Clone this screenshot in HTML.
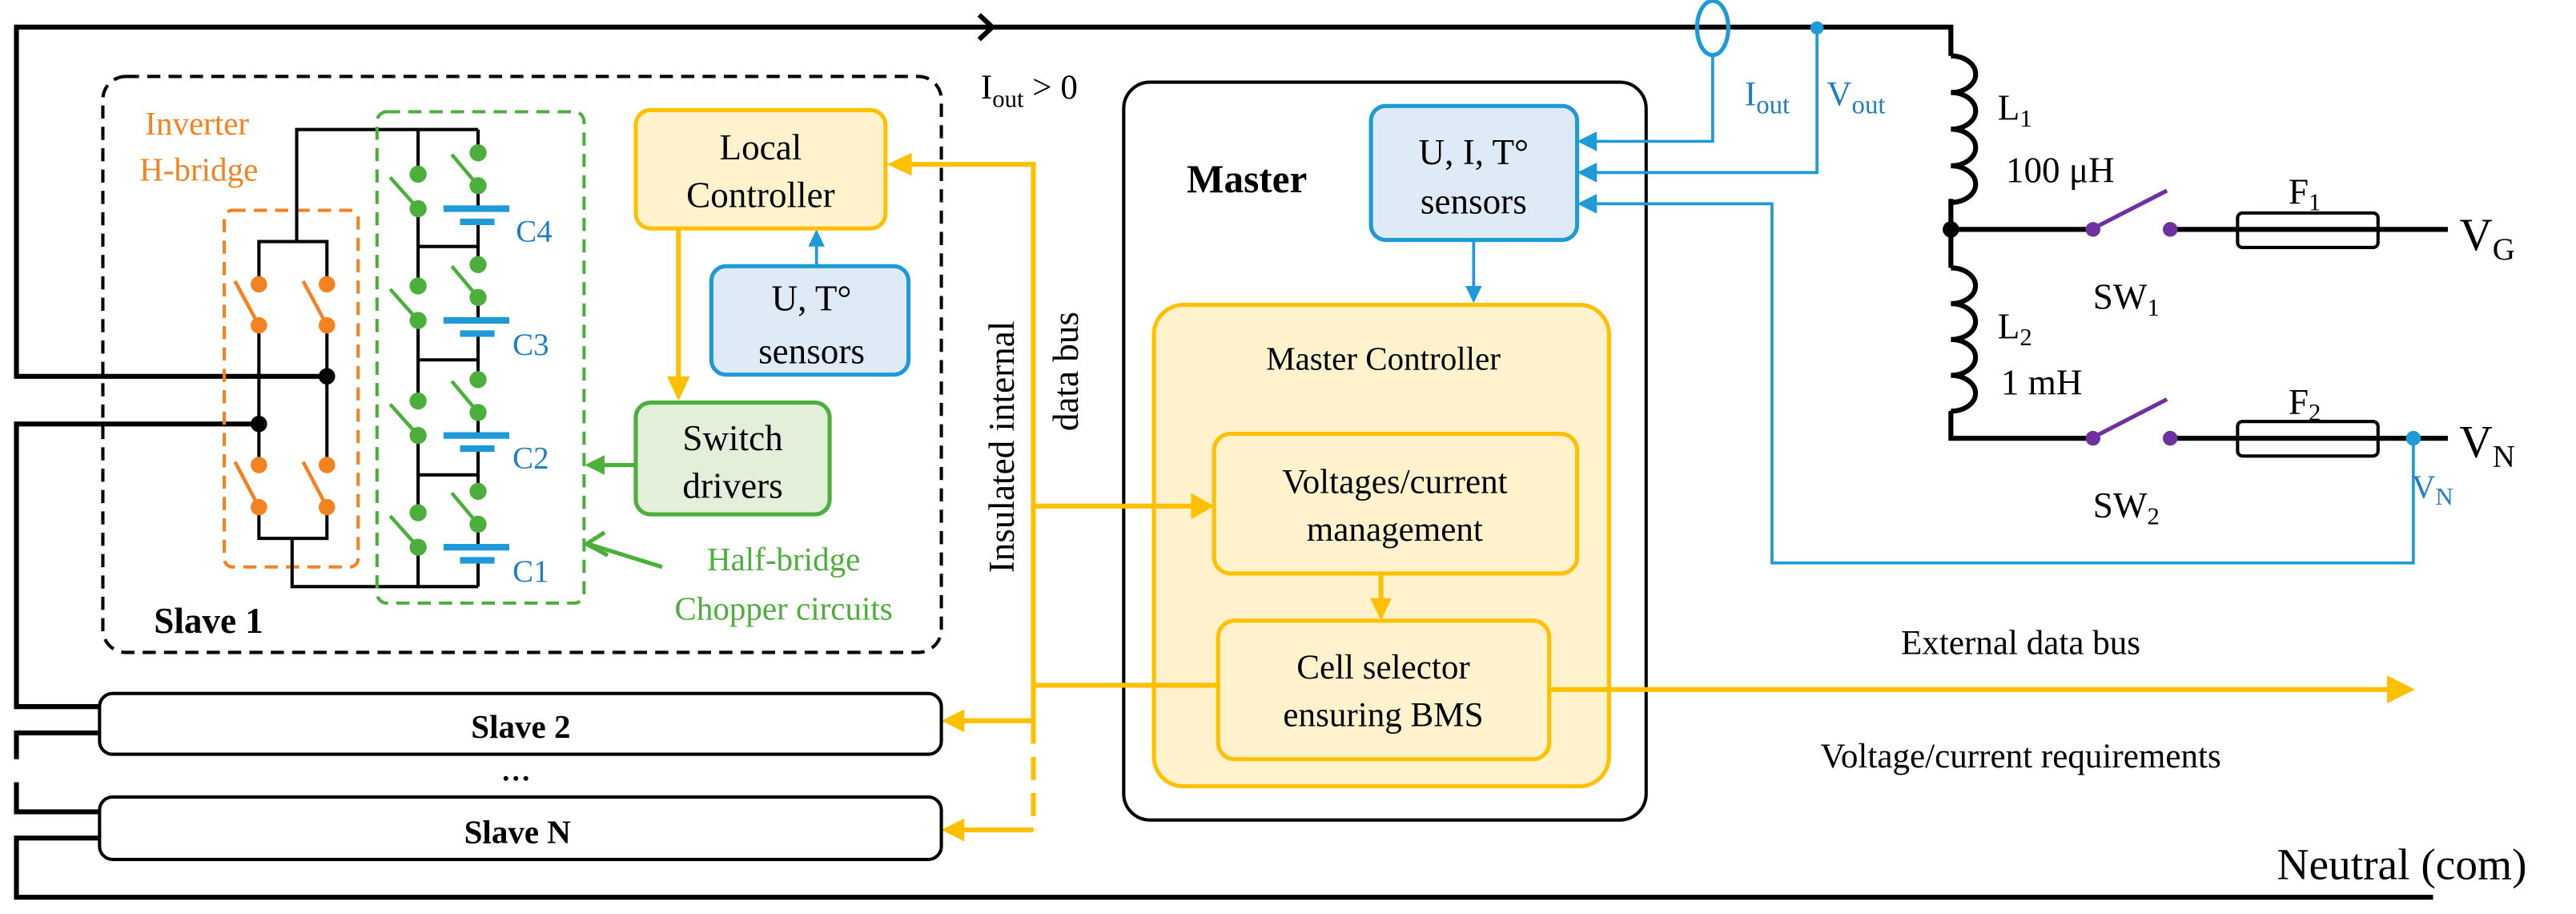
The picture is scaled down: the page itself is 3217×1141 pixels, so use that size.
<!DOCTYPE html>
<html><head><meta charset="utf-8"><style>
html,body{margin:0;padding:0;background:#fff;font-family:'Liberation Serif','Times New Roman',Times,serif;}
svg{display:block;}
svg text, svg tspan{font-family:'Liberation Serif','Times New Roman',Times,serif !important;}
</style></head><body>
<svg width="3217" height="1141" viewBox="0 0 1568 556.2" preserveAspectRatio="none" xmlns="http://www.w3.org/2000/svg" style="font-family:'Liberation Serif','Times New Roman',Times,serif">
<rect x="0" y="0" width="1568" height="556.2" fill="#fff"/>

<rect x="684" y="50" width="318" height="449" rx="16" fill="#fff" stroke="#000" stroke-width="2"/>

<g fill="none" stroke="#000" stroke-width="3" stroke-linejoin="miter">
  <polyline points="199,229 10,229 10,16.5 1187.5,16.5 1187.5,34"/>
  <polyline points="157.6,258 10,258 10,430 60.6,430"/>
  <polyline points="60.6,446 10,446 10,462"/>
  <polyline points="10,476 10,494 60.6,494"/>
  <polyline points="60.6,510 10,510 10,546 1481,546"/>
  <path d="M1187.5,121 L1187.5,139.6 M1187.5,139.6 L1187.5,163 M1187.5,250 L1187.5,266.7 L1273,266.7 M1187.5,139.6 L1273,139.6"/>
  <path d="M1320,139.6 L1490,139.6 M1320,266.7 L1490,266.7"/>
  <path d="M1187.5,34 a15,11.1 0 0 1 0,22.3 a15,11.1 0 0 1 0,22.3 a15,11.1 0 0 1 0,22.3 a15,11.1 0 0 1 0,22.3"/>
  <path d="M1187.5,163 a15,10.9 0 0 1 0,21.8 a15,10.9 0 0 1 0,21.8 a15,10.9 0 0 1 0,21.8 a15,10.9 0 0 1 0,21.8"/>
</g>
<rect x="1362" y="129.6" width="85.5" height="21" rx="3" fill="#fff" stroke="#000" stroke-width="2"/>
<line x1="1362" y1="139.6" x2="1447.5" y2="139.6" stroke="#000" stroke-width="3"/>
<rect x="1362" y="256.5" width="85.5" height="21" rx="3" fill="#fff" stroke="#000" stroke-width="2"/>
<line x1="1362" y1="266.7" x2="1447.5" y2="266.7" stroke="#000" stroke-width="3"/>
<circle cx="1187.5" cy="139.6" r="5" fill="#000"/>
<polyline points="596,9 604,16.5 596,24" fill="none" stroke="#000" stroke-width="3"/>
<g stroke="#7030a0" stroke-width="2.5" fill="#7030a0">
  <line x1="1273" y1="139.6" x2="1319" y2="116"/>
  <line x1="1273" y1="266.7" x2="1319" y2="243"/>
  <circle cx="1274" cy="139.6" r="4.5" stroke="none"/>
  <circle cx="1321" cy="139.6" r="4.5" stroke="none"/>
  <circle cx="1274" cy="266.7" r="4.5" stroke="none"/>
  <circle cx="1321" cy="266.7" r="4.5" stroke="none"/>
</g>

<text x="759" y="117" font-size="24" font-weight="bold" text-anchor="middle">Master</text>
<rect x="834.5" y="64.5" width="125.5" height="81.5" rx="9" fill="#deebf7" stroke="#1f9ad8" stroke-width="2.5"/>
<text x="897" y="100" font-size="22" text-anchor="middle">U, I, T°</text>
<text x="897" y="130" font-size="22" text-anchor="middle">sensors</text>
<rect x="702.4" y="185.5" width="277" height="293" rx="18" fill="#fff2cc" stroke="#ffc000" stroke-width="2.5"/>
<text x="842" y="225" font-size="20" text-anchor="middle">Master Controller</text>
<rect x="739" y="264" width="221" height="85" rx="10" fill="#fff2cc" stroke="#ffc000" stroke-width="2.5"/>
<text x="849" y="300" font-size="21" text-anchor="middle">Voltages/current</text>
<text x="849" y="329" font-size="21" text-anchor="middle">management</text>
<rect x="741.5" y="377.7" width="201.5" height="84.3" rx="10" fill="#fff2cc" stroke="#ffc000" stroke-width="2.5"/>
<text x="842" y="413" font-size="21" text-anchor="middle">Cell selector</text>
<text x="842" y="442" font-size="21" text-anchor="middle">ensuring BMS</text>

<g fill="none" stroke="#1f9ad8" stroke-width="1.8">
  <ellipse cx="1042.5" cy="17" rx="9.5" ry="16.5" stroke-width="2.5"/>
  <polyline points="1042.5,33.5 1042.5,86 968,86"/>
  <polyline points="1106,17 1106,105 968,105"/>
  <polyline points="1469,268 1469,342.6 1078.6,342.6 1078.6,124 968,124"/>
  <line x1="897" y1="146" x2="897" y2="176"/>
  <line x1="497" y1="162" x2="497" y2="146"/>
</g>
<g fill="#1f9ad8">
  <circle cx="1106" cy="17" r="4"/>
  <circle cx="1469" cy="266.7" r="4.5"/>
  <polygon points="960,86 972,80 972,92"/>
  <polygon points="960,105 972,99 972,111"/>
  <polygon points="960,124 972,118 972,130"/>
  <polygon points="897,184.5 892,174 902,174"/>
  <polygon points="497,139.5 492,150 502,150"/>
</g>

<g fill="none" stroke="#ffc000" stroke-width="3">
  <polyline points="553,100 629,100 629,438.6"/>
  <line x1="629" y1="438.6" x2="629" y2="505" stroke-dasharray="14,8"/>
  <line x1="629" y1="308" x2="727" y2="308"/>
  <line x1="629" y1="417" x2="741.5" y2="417"/>
  <line x1="629" y1="438.6" x2="585" y2="438.6"/>
  <line x1="629" y1="505" x2="585" y2="505"/>
  <line x1="943" y1="419.6" x2="1455" y2="419.6"/>
  <line x1="413" y1="139" x2="413" y2="231"/>
  <line x1="840.6" y1="349" x2="840.6" y2="366"/>
</g>
<g fill="#ffc000">
  <polygon points="540,100 555,93 555,107"/>
  <polygon points="739,308 725,300 725,316"/>
  <polygon points="573,438.6 587,431.6 587,445.6"/>
  <polygon points="573,505 587,498 587,512"/>
  <polygon points="1470,419.6 1453,411 1453,428"/>
  <polygon points="413,244 406,229 420,229"/>
  <polygon points="840.6,377.7 834,364 847,364"/>
</g>
<text transform="translate(617,272) rotate(-90)" font-size="22" text-anchor="middle">Insulated internal</text>
<text transform="translate(656,226) rotate(-90)" font-size="22" text-anchor="middle">data bus</text>

<rect x="62.6" y="46.5" width="510.4" height="350.5" rx="14" fill="none" stroke="#000" stroke-width="2" stroke-dasharray="8,5"/>
<text x="127" y="385" font-size="22" font-weight="bold" text-anchor="middle">Slave 1</text>
<text x="597" y="60" font-size="21">I<tspan font-size="15" dy="5">out</tspan><tspan dy="-5"> &gt; 0</tspan></text>

<rect x="136.5" y="128" width="81.5" height="217" rx="5" fill="none" stroke="#f58220" stroke-width="2" stroke-dasharray="8,5"/>
<text x="120" y="82" font-size="20" fill="#f58220" text-anchor="middle">Inverter</text>
<text x="121" y="110" font-size="20" fill="#f58220" text-anchor="middle">H-bridge</text>
<g fill="none" stroke="#000" stroke-width="2">
  <polyline points="180.6,147 180.6,78.8 291,78.8"/>
  <polyline points="157.6,173 157.6,147 199,147 199,173"/>
  <line x1="157.6" y1="198" x2="157.6" y2="283"/>
  <line x1="199" y1="198" x2="199" y2="283"/>
  <polyline points="157.6,308.6 157.6,327.6 199,327.6 199,308.6"/>
  <polyline points="177.8,327.6 177.8,357 291,357"/>
  <line x1="254.5" y1="78.8" x2="254.5" y2="106"/>
  <line x1="254.5" y1="127" x2="254.5" y2="174"/>
  <line x1="254.5" y1="195" x2="254.5" y2="244"/>
  <line x1="254.5" y1="265" x2="254.5" y2="312"/>
  <line x1="254.5" y1="333" x2="254.5" y2="357"/>
  <line x1="291" y1="78.8" x2="291" y2="93"/>
  <line x1="291" y1="113" x2="291" y2="127"/>
  <line x1="291" y1="135" x2="291" y2="161"/>
  <line x1="291" y1="181" x2="291" y2="195"/>
  <line x1="291" y1="203" x2="291" y2="231"/>
  <line x1="291" y1="251" x2="291" y2="265"/>
  <line x1="291" y1="273" x2="291" y2="299"/>
  <line x1="291" y1="319" x2="291" y2="333"/>
  <line x1="291" y1="341" x2="291" y2="357"/>
  <line x1="254.5" y1="150" x2="291" y2="150"/>
  <line x1="254.5" y1="219" x2="291" y2="219"/>
  <line x1="254.5" y1="289" x2="291" y2="289"/>
</g>
<circle cx="199" cy="229" r="5" fill="#000"/>
<circle cx="157.6" cy="258" r="5" fill="#000"/>
<g stroke="#f58220" stroke-width="2.2" fill="#f58220">
  <line x1="143" y1="171" x2="157.6" y2="198"/>
  <line x1="184.5" y1="171" x2="199" y2="198"/>
  <line x1="143" y1="281" x2="157.6" y2="308.6"/>
  <line x1="184.5" y1="281" x2="199" y2="308.6"/>
  <circle cx="157.6" cy="173" r="5" stroke="none"/><circle cx="157.6" cy="198" r="5" stroke="none"/>
  <circle cx="199" cy="173" r="5" stroke="none"/><circle cx="199" cy="198" r="5" stroke="none"/>
  <circle cx="157.6" cy="283" r="5" stroke="none"/><circle cx="157.6" cy="308.6" r="5" stroke="none"/>
  <circle cx="199" cy="283" r="5" stroke="none"/><circle cx="199" cy="308.6" r="5" stroke="none"/>
</g>
<g stroke="#4caf3c" stroke-width="2.2" fill="#4caf3c">
  <line x1="275" y1="94" x2="291" y2="113"/><line x1="237.5" y1="108" x2="254.5" y2="127"/>
  <line x1="275" y1="162" x2="291" y2="181"/><line x1="237.5" y1="176" x2="254.5" y2="195"/>
  <line x1="275" y1="232" x2="291" y2="251"/><line x1="237.5" y1="246" x2="254.5" y2="265"/>
  <line x1="275" y1="300" x2="291" y2="319"/><line x1="237.5" y1="314" x2="254.5" y2="333"/>
  <g stroke="none">
  <circle cx="291" cy="93" r="5.2"/><circle cx="291" cy="113" r="5.2"/><circle cx="254.5" cy="106" r="5.2"/><circle cx="254.5" cy="127" r="5.2"/>
  <circle cx="291" cy="161" r="5.2"/><circle cx="291" cy="181" r="5.2"/><circle cx="254.5" cy="174" r="5.2"/><circle cx="254.5" cy="195" r="5.2"/>
  <circle cx="291" cy="231" r="5.2"/><circle cx="291" cy="251" r="5.2"/><circle cx="254.5" cy="244" r="5.2"/><circle cx="254.5" cy="265" r="5.2"/>
  <circle cx="291" cy="299" r="5.2"/><circle cx="291" cy="319" r="5.2"/><circle cx="254.5" cy="312" r="5.2"/><circle cx="254.5" cy="333" r="5.2"/>
  </g>
</g>
<g stroke="#1f9ad8" stroke-width="4">
  <line x1="270" y1="127" x2="310" y2="127"/><line x1="280" y1="135" x2="301" y2="135"/>
  <line x1="270" y1="195" x2="310" y2="195"/><line x1="280" y1="203" x2="301" y2="203"/>
  <line x1="270" y1="265" x2="310" y2="265"/><line x1="280" y1="273" x2="301" y2="273"/>
  <line x1="270" y1="333" x2="310" y2="333"/><line x1="280" y1="341" x2="301" y2="341"/>
</g>
<g fill="#1f7fc4" font-size="19">
  <text x="314" y="147">C4</text>
  <text x="312" y="216">C3</text>
  <text x="312" y="285">C2</text>
  <text x="312" y="354">C1</text>
</g>
<rect x="229.5" y="68" width="126" height="299" rx="6" fill="none" stroke="#4caf3c" stroke-width="2" stroke-dasharray="8,5"/>

<rect x="387" y="67" width="152" height="72" rx="9" fill="#fff2cc" stroke="#ffc000" stroke-width="2.5"/>
<text x="463" y="97" font-size="22" text-anchor="middle">Local</text>
<text x="463" y="126" font-size="22" text-anchor="middle">Controller</text>
<rect x="433" y="162" width="120" height="66" rx="9" fill="#deebf7" stroke="#1f9ad8" stroke-width="2.5"/>
<text x="494" y="189" font-size="22" text-anchor="middle">U, T°</text>
<text x="494" y="221" font-size="22" text-anchor="middle">sensors</text>
<rect x="387" y="245" width="118" height="68" rx="9" fill="#e2f0d9" stroke="#4caf3c" stroke-width="2.5"/>
<text x="446" y="274" font-size="22" text-anchor="middle">Switch</text>
<text x="446" y="303" font-size="22" text-anchor="middle">drivers</text>
<g stroke="#4caf3c" stroke-width="2.5" fill="#4caf3c">
  <line x1="387" y1="283" x2="366" y2="283"/>
  <polygon points="356,283 368,277 368,289" stroke="none"/>
  <polyline points="368,324 357,331 370,338" fill="none"/>
  <line x1="403" y1="345" x2="358" y2="331"/>
</g>
<text x="477" y="347" font-size="20" fill="#4caf3c" text-anchor="middle">Half-bridge</text>
<text x="477" y="377" font-size="20" fill="#4caf3c" text-anchor="middle">Chopper circuits</text>

<rect x="60.6" y="422" width="512.4" height="37" rx="8" fill="#fff" stroke="#000" stroke-width="2"/>
<text x="317" y="449" font-size="20" font-weight="bold" text-anchor="middle">Slave 2</text>
<text x="314" y="475" font-size="18" font-weight="bold" text-anchor="middle">…</text>
<rect x="60.6" y="485" width="512.4" height="38" rx="8" fill="#fff" stroke="#000" stroke-width="2"/>
<text x="315" y="513" font-size="20" font-weight="bold" text-anchor="middle">Slave N</text>

<text x="1062" y="64" font-size="21" fill="#1f7fc4">I<tspan font-size="16" dy="5">out</tspan></text>
<text x="1112" y="64" font-size="21" fill="#1f7fc4">V<tspan font-size="16" dy="5">out</tspan></text>
<text x="1216" y="73" font-size="22">L<tspan font-size="15" dy="4">1</tspan></text>
<text x="1254" y="111" font-size="22" text-anchor="middle">100 μH</text>
<text x="1393" y="124" font-size="22">F<tspan font-size="15" dy="4">1</tspan></text>
<text x="1274" y="188" font-size="22">SW<tspan font-size="15" dy="4">1</tspan></text>
<text x="1216" y="206" font-size="22">L<tspan font-size="15" dy="4">2</tspan></text>
<text x="1218" y="240" font-size="22">1 mH</text>
<text x="1393" y="252" font-size="22">F<tspan font-size="15" dy="4">2</tspan></text>
<text x="1274" y="315" font-size="22">SW<tspan font-size="15" dy="4">2</tspan></text>
<text x="1497" y="152" font-size="28">V<tspan font-size="19" dy="6">G</tspan></text>
<text x="1497" y="278" font-size="28">V<tspan font-size="19" dy="6">N</tspan></text>
<text x="1468" y="303" font-size="20" fill="#1f7fc4">V<tspan font-size="15" dy="4">N</tspan></text>
<text x="1230" y="398" font-size="21" text-anchor="middle">External  data bus</text>
<text x="1230" y="467" font-size="21" text-anchor="middle">Voltage/current requirements</text>
<text x="1462" y="535" font-size="27" text-anchor="middle">Neutral (com)</text>
</svg>
</body></html>
